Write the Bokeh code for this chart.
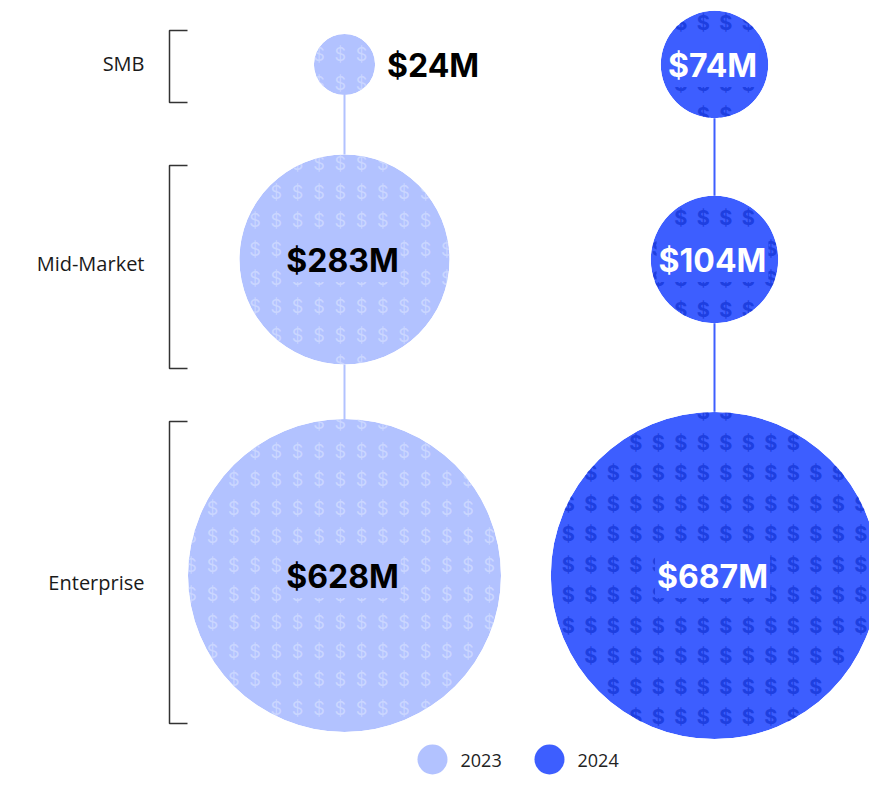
import numpy as np
from bokeh.plotting import figure
from bokeh.models import Range1d
from bokeh.core.properties import value
from bokeh.embed import file_html
from bokeh.resources import INLINE

# ---------------- data ----------------
categories = ["SMB", "Mid-Market", "Enterprise"]
years = ["2023", "2024"]
values_2023 = [24, 283, 628]
values_2024 = [74, 104, 687]
labels_2023 = ["$24M", "$283M", "$628M"]
labels_2024 = ["$74M", "$104M", "$687M"]

# ---------------- layout (pixel coordinates) ----------------
W, H = 869, 775
col_x = {"2023": 344, "2024": 714}
row_y = {"SMB": 64, "Mid-Market": 259, "Enterprise": 575}
bracket_span = {"SMB": (30, 102), "Mid-Market": (165, 368), "Enterprise": (421, 723)}
cat_label_y = {"SMB": 63, "Mid-Market": 263, "Enterprise": 582}
K = 6.245  # radius per sqrt($M)
LIGHT, DARK = "#B2C2FF", "#3D5EFF"
style = {
    "2023": dict(fill=LIGHT, dollar="#CAD6FF", text="#000000", dx=21.3, dy=28.6, fs="18px",
                 fw="normal", ox=-0.2, oy=-0.35),
    "2024": dict(fill=DARK, dollar="#1E3FE0", text="#FFFFFF", dx=22.5, dy=30.5, fs="20px",
                 fw="bold", ox=0.5, oy=-0.35),
}
series = {"2023": (values_2023, labels_2023), "2024": (values_2024, labels_2024)}

p = figure(width=W, height=H, x_range=Range1d(0, W), y_range=Range1d(H, 0),
           output_backend="svg", toolbar_location=None, min_border=0,
           x_axis_location=None, y_axis_location=None)
p.grid.visible = False
p.outline_line_color = None
p.background_fill_color = "white"

for yr in years:
    vals, labs = series[yr]
    st = style[yr]
    cx = col_x[yr]
    cys = [row_y[c] for c in categories]
    rs = [K * np.sqrt(v) for v in vals]

    # circles
    p.circle(x=[cx] * 3, y=cys, radius=rs, fill_color=st["fill"], line_color=None)

    # dollar pattern
    dxs, dys = [], []
    for cy, r in zip(cys, rs):
        n = int(r / st["dx"]) + 2
        m = int(r / st["dy"]) + 2
        for i in range(-n, n + 1):
            for j in range(-m, m + 1):
                px = cx + st["dx"] * (i + st["ox"])
                py = cy + st["dy"] * (j + st["oy"])
                if np.hypot(px - cx, py - cy) <= r + 2:
                    dxs.append(px)
                    dys.append(py)
    p.text(x=dxs, y=dys, text=["$"] * len(dxs), text_align="center", text_baseline="middle",
           text_font=value("Inter"), text_font_style=st["fw"], text_font_size=st["fs"],
           text_color=st["dollar"])

    # white ring clipping the pattern
    p.annulus(x=[cx] * 3, y=cys, inner_radius=rs, outer_radius=[r + 16 for r in rs],
              fill_color="white", line_color=None)

    # connecting lines
    xs_l, ys_l = [], []
    for k in range(len(categories) - 1):
        xs_l.append([cx, cx])
        ys_l.append([cys[k] + rs[k], cys[k + 1] - rs[k + 1]])
    p.multi_line(xs=xs_l, ys=ys_l, line_color=st["fill"], line_width=2)

    # value labels
    for cy, r, lab in zip(cys, rs, labs):
        if r < 40:
            p.text(x=[cx + r + 12], y=[cy + 1], text=[lab], text_align="left", text_baseline="middle",
                   text_font=value("Inter"), text_font_style="bold", text_font_size="32px",
                   text_color="#000000")
        else:
            p.text(x=[cx - 2], y=[cy + 1], text=[lab], text_align="center", text_baseline="middle",
                   text_font=value("Inter"), text_font_style="bold", text_font_size="32px",
                   text_color=st["text"], background_fill_color=st["fill"], padding=2)

# brackets
bx0, bx1 = 169, 187
p.multi_line(xs=[[bx1, bx0, bx0, bx1] for c in categories],
             ys=[[bracket_span[c][0], bracket_span[c][0], bracket_span[c][1], bracket_span[c][1]] for c in categories],
             line_color="#333333", line_width=1.5)

# category labels
p.text(x=[144] * 3, y=[cat_label_y[c] for c in categories], text=categories,
       text_align="right", text_baseline="middle", text_font=value("Open Sans"),
       text_font_size="20px", text_color="#1a1a1a")

# legend
leg_x = [432, 549]
leg_y = 759
p.scatter(x=leg_x, y=[leg_y, leg_y], size=30, fill_color=[LIGHT, DARK], line_color=None)
p.text(x=[x + 28 for x in leg_x], y=[leg_y + 1, leg_y + 1], text=years, text_align="left",
       text_baseline="middle", text_font=value("Open Sans"), text_font_size="18px",
       text_color="#222222")

open("out.html", "w").write(file_html(p, INLINE))
